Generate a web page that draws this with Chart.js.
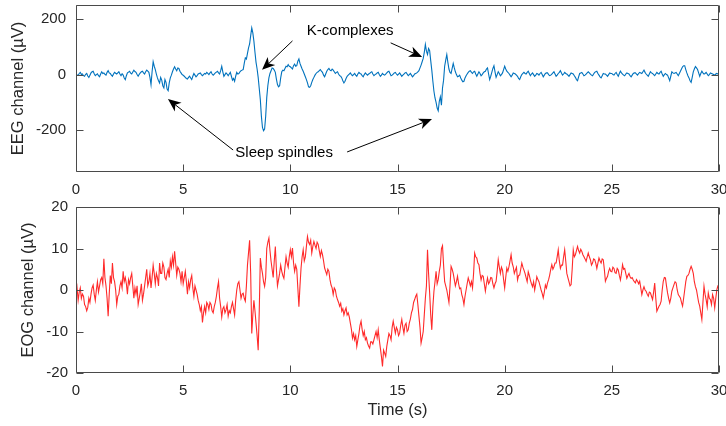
<!DOCTYPE html>
<html lang="en">
<head>
    <meta charset="UTF-8">
    <title>EEG / EOG</title>
    <script src="https://cdn.jsdelivr.net/npm/chart.js"></script>
    <style>
        body { margin: 0; background: #fff; }
        #top { position: absolute; left: 0; top: 0; }
        #bottom { position: absolute; left: 0; top: 200px; }
    </style>
</head>
<body>
    <canvas id="top" width="726" height="200"></canvas>
    <canvas id="bottom" width="726" height="226"></canvas>
    <script>
        // samples per second of the arrays below
        const eegRate = 20;
        const eogRate = 20;

        // EEG channel, µV, t = 0 .. 30 s (one row per second)
        const eeg = [
            5, -2, -3, 4, 8, 0, 2, -4, -6, 1, 4, -5, -10, -2, 6, 10, 12, 3, -4, 0,
            3, -4, -8, 2, 10, 4, 6, 1, -2, 8, 14, 6, 4, -2, -6, 2, 8, 5, 2, 6,
            10, 2, -4, 3, -2, -12, -18, -4, 6, 9, 12, 5, 2, 9, 16, 11, 8, 0, -6, 1,
            6, 10, 12, 6, 2, 10, 16, 12, 8, -10, -36, 10, 46, 30, 18, 2, -12, -22, -30, -10,
            -20, -40, -48, -18, -28, -52, -58, -30, -12, -2, 10, 20, 28, 20, 14, 24, 22, 12, 6, 0,
            -2, -6, -10, -14, -16, -10, -6, -12, -18, -6, 4, -2, -8, -4, 2, 4, 6, 0, -4, 0,
            4, 2, 8, 4, 0, 6, 10, 2, -2, 2, 6, 9, 12, 6, 2, 14, 30, 10, -6, 0,
            6, 2, -4, 2, 8, -6, -20, -14, -24, -6, 8, 2, 4, 10, 14, 16, 18, 40, 60, 56,
            76, 96, 110, 140, 168, 150, 120, 80, 44, 20, -10, -50, -90, -150, -190, -202, -196, -150, -82, -40,
            -12, 4, 14, 24, 22, 16, 8, -16, -36, -44, -40, -12, 10, 16, 14, 22, 30, 28, 36, 30,
            28, 24, 20, 32, 38, 30, 32, 48, 56, 40, 30, 20, 12, 2, -8, -18, -30, -44, -46, -40,
            -28, -18, -10, -2, 4, 8, 10, 14, 18, 12, 8, -2, -8, 2, 12, 18, 22, 16, 14, 20,
            16, 10, 4, 8, 10, 2, -4, -6, -12, -22, -30, -24, -14, -6, -2, 2, 6, 0, -4, 0,
            4, -2, -6, 2, 8, 4, 2, -4, -8, 0, 6, 2, -2, 2, 4, 8, 10, 2, -4, 0,
            2, 6, 8, 0, -6, -2, 4, 0, -2, 2, 6, 10, 12, 4, -4, -2, 2, 6, 8, 2,
            -2, 2, 6, 0, -6, -2, 2, 6, 8, 2, -4, 0, 4, -2, -8, -4, 2, 4, 6, 10,
            14, 24, 34, 46, 58, 80, 108, 84, 72, 94, 86, 50, 16, -24, -60, -84, -100, -120, -130, -96,
            -80, -110, -48, -20, 30, 52, 72, 44, 20, 8, 4, 22, 40, 24, 10, 0, -8, -6, -2, -12,
            -20, -26, -24, -12, -4, 2, 8, 12, 14, 8, 4, 10, 12, 2, -6, 2, 10, 4, -4, 0,
            6, 10, 12, 20, 24, 2, -18, -6, 8, 22, 32, 10, -10, 0, 10, 4, -4, 0, 6, 18,
            30, 20, 12, 8, 4, -2, -8, -2, 6, 4, 2, -2, -6, -14, -18, -8, 0, 4, 8, 4,
            2, 8, 12, 4, -4, 2, 6, 0, -6, -2, 4, 2, -2, 4, 8, 0, -8, -2, 4, 6,
            6, 0, -4, -2, 2, 6, 10, 2, -6, -2, 4, 8, 14, 6, -2, 2, 8, 4, 2, -2,
            -6, 0, 6, 4, 2, -4, -10, -18, -22, -8, 4, 6, 8, 2, -4, -2, 2, 6, 10, 6,
            2, -2, -4, 2, 8, 10, 12, 4, -2, -8, -12, -4, 4, 2, 2, -2, -6, 0, 6, 4,
            4, 0, -2, 4, 8, 0, -6, 4, 12, 6, 2, -2, -4, 2, 6, 4, 2, -4, -8, -2,
            4, 6, 6, 2, -2, 4, 8, 6, 4, 10, 16, 8, 2, -2, -6, 2, 10, 6, 4, 0,
            -4, 2, 8, 4, 2, 8, 12, 2, -6, 0, 4, 0, -2, -12, -22, -6, 10, 6, 4, 6,
            8, 2, -4, 4, 12, 20, 28, 32, 32, 18, 6, -4, -12, -22, -28, -10, 10, 20, 29, 24,
            18, 6, -6, 4, 12, 6, 2, 4, 8, 2, -4, 0, 6, 4, 2, 0, -2, 2, 4, 2,
            0
        ];

        // EOG channel, µV, t = 0 .. 30 s (one row per second)
        const eog = [
            -1.5, 0.5, -2.5, -0.5, 0.5, -2, -1, -1.5, -3.5, -4, -5, -4.2, -2, -3, -1, 0.5, 1.2, -1, -2.5, 0,
            2, -0.5, 1, 2.5, 3, 1.5, 7.5, 3, 1, -2, -6.3, -1, 3.5, 1.5, 6.5, 3, 2, 0, -3.5, -1.5,
            -1, 1, 2, 0.5, 4.5, 2, 3, 1.5, -1, 2.5, 1.5, 3, 4, 1, -2, 0.5, -1, 1, -3.5, -2,
            -0.5, 1.5, -2.5, -1, 1, 3, 5, 1, 2, 4, 0.5, 3, 6, 4, 1.5, 4, 3, 1, 6.5, 4,
            4, 6.5, 5.5, 3, 2.5, 4, 5, 3, 7, 5.5, 8, 6, 9.3, 6.5, 3.5, 5.5, 5, 4, 2, 4.5,
            1.5, 3, 4.5, 2, -1, 2, 0.5, 2.5, 3.5, 0.5, -1.5, 1, 0, -1, -2.5, -3.5, -5, -4, -7.8, -5.5,
            -4, -5.5, -3, -3.5, -4.7, -3, -3.5, -5, -5.5, -4, -3, -1.5, 0.5, 2, -2, -4, -6.5, -4.5, -4, -5.5,
            -4.8, -3.5, -6.3, -5, -5.5, -4, -3, -4.5, -6, -2.5, 0, 1.5, 2, 0, -2, -1, -0.8, -2, -2.7, 1,
            6, 9, 12, 4, -10.5, -6, -2.5, -5, -8, -11, -14.5, -5, 7.7, 5.5, 4, 2, 0.9, 3, 10, 11.5,
            12.5, 9.5, 7, 5, 3, 7, 10.5, 5, 1, 2.5, 4, 6, 4.5, 3.5, 2.8, 5.5, 8, 6.5, 5.5, 8,
            9.7, 8, 10.1, 6.5, 4.5, 6, 5, 0.5, -4, 1, 5.3, 8, 9.7, 7, 8, 10.5, 12.9, 11.5, 11, 12,
            8.9, 10.5, 11.7, 10.8, 10, 11.5, 11, 9.5, 8.1, 9.5, 8.5, 7, 5.3, 4.5, 3.7, 5, 4.5, 2.5, 1.2, 0.5,
            -1.1, 0.5, 0, -1.5, -2.3, -3, -3.9, -3.2, -5.1, -4.5, -6, -5, -4.3, -6, -5.5, -6.5, -8, -9.5, -11.6, -10.5,
            -12, -11, -13.6, -12, -10.5, -8.5, -7.5, -9.5, -11, -10, -12, -11.5, -12.8, -13.5, -14, -12.5, -12.5, -13, -12, -11,
            -10, -11.5, -9.6, -12, -14, -16, -18.4, -14.5, -15.2, -16, -13.6, -12, -10.5, -11, -12, -9, -7.5, -9, -10.4, -9,
            -9.6, -11, -10.4, -8.5, -7.1, -9, -10.4, -8.5, -8, -10, -9.6, -8, -7, -5.5, -4.7, -3, -2.3, -1.5, -1, -3.5,
            -6.3, -9, -12.8, -11.5, -10, -6, -2, 1, 9.7, 4, -0.7, -6, -9.6, -4, -0.3, 2, 4.5, 1.5, 2.5, 4.5,
            6, 10, 10.7, 6, 2, 1, 0, -1.5, -3, 1, 5.7, 5, 4, 2.5, 1, 2, 3.3, 1.5, 0.3, 0.5,
            -1.1, -2, -3.5, -1.5, 0, 1.5, 2.9, 2, 1, 2, 0.5, 4, 8.9, 8, 7.7, 6.5, 6.1, 4, 2.4, 3.5,
            3.3, 1.5, -0.3, 1.5, 2.9, 1.5, 2, 3, 2.9, 1.5, 0.5, 1.5, 2.1, 4.5, 7.3, 5.5, 4, 5.5, 4.8, 2.5,
            0.5, 3, 5.3, 4.5, 5.6, 7, 8.5, 6.5, 5.6, 4, 4.8, 5.5, 2.4, 3.5, 3.6, 5, 6.5, 5.5, 4.8, 4,
            3, 2, 4.4, 3.5, 2.4, 1.5, 0.8, 2, 0, 1.5, 3.2, 2.5, 2, 1, 0, -0.8, -1.9, -0.5, 1.2, 0.5,
            1.7, 2.5, 3.6, 5, 6.1, 5, 5.6, 6.5, 6.5, 8, 9.7, 7, 5.2, 6, 6, 8, 9.7, 7, 4, 3,
            2, 1, 1.3, 5, 9.7, 8, 8.5, 9.5, 10.5, 9.5, 8.9, 9.8, 9.3, 8.5, 8, 7.5, 6.9, 8, 8.9, 8,
            7.3, 6, 6.5, 7.5, 7.3, 6.5, 5.2, 6.5, 7.7, 7, 6.5, 7.5, 7.3, 5, 2.1, 2.8, 3.3, 4.5, 5.2, 4.5,
            4.4, 5.5, 5.2, 4.2, 4, 5.2, 4.8, 3.5, 2.4, 4, 6.1, 5, 5.2, 4, 2.8, 3.5, 4, 3.2, 2.8, 3,
            2.4, 2, 1.7, 2.5, 2.1, 1.5, 2.1, 0.5, -1.1, 0, 0.8, 0, -0.3, -1, -1.5, -0.5, -0.7, -1.5, -2.3, -0.5,
            1.7, -2, -5.1, -4.5, -3.9, -3.5, -2.7, 0, 2.1, 3, 2.9, 1, -0.7, -2, -3.1, -2, -0.3, 0.5, 1.3, 2,
            1.7, 0, -1.1, -1.5, -1.9, -3, -3.9, -2, 0, 2, 3.3, 3.5, 4, 5, 5.7, 5, 4, 2, 0.8, 0,
            -1.5, -3, -3.9, -5.5, -7.1, -3, 0.9, -1, -2.3, -4, -0.7, -2, -2.3, -3.5, -1.1, -2, -4.3, -2, 0.1, 1,
            1.3
        ];

        const xTicks = [0, 5, 10, 15, 20, 25, 30];
        const eegTicks = [-200, 0, 200];
        const eogTicks = [-20, -10, 0, 10, 20];

        // annotation labels and arrows, in data units of the EEG axes
        const notes = [
            { text: 'K-complexes', x: 12.79, y: 157 },
            { text: 'Sleep spindles', x: 9.71, y: -282 }
        ];
        const arrows = [
            { from: [10.10, 121], to: [8.68, 17] },
            { from: [14.68, 114], to: [16.15, 63] },
            { from: [7.33, -271], to: [4.29, -88] },
            { from: [12.65, -278], to: [16.61, -160] }
        ];

        Chart.defaults.font.family = '"Liberation Sans", Arial, sans-serif';
        Chart.defaults.color = '#262626';

        const toPoints = (ys, rate) => ys.map((v, i) => ({ x: i / rate, y: v }));

        // MATLAB-style box with inward ticks on all four sides
        const frame = {
            id: 'frame',
            afterDraw(chart) {
                const { ctx, chartArea: a, scales } = chart;
                const L = Math.round(a.left) + 0.5, R = Math.round(a.right) - 0.5;
                const T = Math.round(a.top) + 0.5, B = Math.round(a.bottom) - 0.5;
                ctx.save();
                ctx.strokeStyle = '#4a4a4a';
                ctx.lineWidth = 1;
                ctx.beginPath();
                ctx.rect(L, T, R - L, B - T);
                scales.x.ticks.forEach(tk => {
                    const px = Math.round(scales.x.getPixelForValue(tk.value)) + 0.5;
                    ctx.moveTo(px, B); ctx.lineTo(px, B - 7);
                    ctx.moveTo(px, T); ctx.lineTo(px, T + 7);
                });
                scales.y.ticks.forEach(tk => {
                    const py = Math.round(scales.y.getPixelForValue(tk.value)) + 0.5;
                    ctx.moveTo(L, py); ctx.lineTo(L + 7, py);
                    ctx.moveTo(R, py); ctx.lineTo(R - 7, py);
                });
                ctx.stroke();
                ctx.restore();
            }
        };

        const annotate = {
            id: 'annotate',
            afterDraw(chart) {
                const { ctx, scales: { x, y } } = chart;
                ctx.save();
                ctx.fillStyle = '#000';
                ctx.strokeStyle = '#000';
                ctx.lineWidth = 1;
                ctx.font = '15px "Liberation Sans", Arial, sans-serif';
                ctx.textAlign = 'center';
                ctx.textBaseline = 'middle';
                notes.forEach(n => ctx.fillText(n.text, x.getPixelForValue(n.x), y.getPixelForValue(n.y)));
                arrows.forEach(ar => {
                    const x1 = x.getPixelForValue(ar.from[0]), y1 = y.getPixelForValue(ar.from[1]);
                    const x2 = x.getPixelForValue(ar.to[0]), y2 = y.getPixelForValue(ar.to[1]);
                    const ang = Math.atan2(y2 - y1, x2 - x1);
                    const len = 13, half = 5.5;
                    ctx.beginPath();
                    ctx.moveTo(x1, y1);
                    ctx.lineTo(x2 - Math.cos(ang) * len * 0.7, y2 - Math.sin(ang) * len * 0.7);
                    ctx.stroke();
                    ctx.save();
                    ctx.translate(x2, y2);
                    ctx.rotate(ang);
                    ctx.beginPath();
                    ctx.moveTo(0, 0);
                    ctx.lineTo(-len, -half);
                    ctx.lineTo(-len * 0.72, 0);
                    ctx.lineTo(-len, half);
                    ctx.closePath();
                    ctx.fill();
                    ctx.restore();
                });
                ctx.restore();
            }
        };

        function makeChart(id, values, rate, color, yMin, yMax, yTicks, yTitle, opts) {
            return new Chart(document.getElementById(id), {
                type: 'line',
                data: {
                    datasets: [{
                        data: toPoints(values, rate),
                        borderColor: color,
                        borderWidth: 1.1,
                        pointRadius: 0,
                        tension: 0
                    }]
                },
                options: {
                    responsive: false,
                    animation: false,
                    events: [],
                    layout: { padding: opts.padding },
                    plugins: { legend: { display: false }, tooltip: { enabled: false } },
                    scales: {
                        x: {
                            type: 'linear',
                            min: 0, max: 30,
                            grid: { display: false, drawTicks: false },
                            border: { display: false },
                            afterBuildTicks: s => { s.ticks = xTicks.map(v => ({ value: v })); },
                            ticks: { font: { size: 15 }, padding: 9, maxRotation: 0 },
                            title: {
                                display: !!opts.xTitle,
                                text: opts.xTitle || '',
                                font: { size: 16.5 },
                                padding: { top: 4, bottom: 6 }
                            },
                            afterFit: s => { s.height = opts.xHeight; s.paddingLeft = 0; s.paddingRight = 0; }
                        },
                        y: {
                            min: yMin, max: yMax,
                            grid: { display: false, drawTicks: false },
                            border: { display: false },
                            afterBuildTicks: s => { s.ticks = yTicks.map(v => ({ value: v })); },
                            ticks: { font: { size: 15 }, padding: opts.yPad },
                            title: {
                                display: true,
                                text: yTitle,
                                font: { size: 16.5 },
                                padding: { top: opts.yTitlePad, bottom: 0 }
                            },
                            afterFit: s => { s.width = 76; s.paddingTop = 0; s.paddingBottom = 0; }
                        }
                    }
                },
                plugins: opts.plugins
            });
        }

        makeChart('top', eeg, eegRate, '#0072BD', -350, 250, eegTicks, 'EEG channel (µV)', {
            padding: { left: 0, right: 7, top: 5, bottom: 0 },
            xHeight: 28, yPad: 10, yTitlePad: 9,
            plugins: [frame, annotate]
        });

        makeChart('bottom', eog, eogRate, '#FF2A2A', -20, 20, eogTicks, 'EOG channel (µV)', {
            padding: { left: 0, right: 7, top: 7, bottom: 0 },
            xHeight: 53, yPad: 8, yTitlePad: 19, xTitle: 'Time (s)',
            plugins: [frame]
        });
    </script>
</body>
</html>
